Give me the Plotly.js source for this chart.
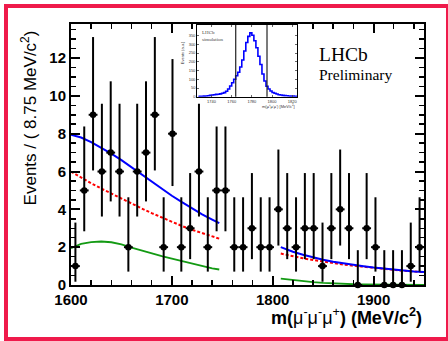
<!DOCTYPE html>
<html>
<head>
<meta charset="utf-8">
<script src="https://cdn.plot.ly/plotly-3.0.1.min.js"></script>
<style>
html,body{margin:0;padding:0;background:#fff;}
#wrap{position:relative;width:448px;height:341px;overflow:hidden;}
#chart{position:absolute;left:0;top:0;width:448px;height:341px;}
#frame{position:absolute;left:4px;top:4px;width:446px;height:337px;border:4px solid #ef1a4b;box-sizing:border-box;pointer-events:none;}
</style>
</head>
<body>
<div id="wrap"><div id="chart"></div><div id="frame"></div></div>
<script>
// ---- main histogram (bins of 8.75 MeV from 1600 to 1950) ----
const binLow = 1600;
const binWidth = 8.75;
const counts = [1,5,9,6,7,6,2,6,7,9,2,8,2,3,6,2,5,5,2,2,3,2,2,4,3,2,3,3,1,3,4,3,0,3,2,0,0,0,1,2];
// Poisson (68.3%) error table indexed by count
const poissonUp   = [1.841,2.300,2.638,2.918,3.163,3.382,3.584,3.770,3.945,4.110];
const poissonDown = [0,0.827,1.292,1.633,1.914,2.160,2.380,2.581,2.768,2.943];

// ---- fit curves (sidebands) ----
const fitXLeft  = [1600,1610,1620,1630,1640,1650,1660,1670,1680,1690,1700,1710,1720,1730,1740,1747];
const totalLeft = [7.95,7.8,7.55,7.25,6.95,6.6,6.22,5.85,5.45,5.1,4.72,4.38,4.04,3.74,3.46,3.27];
const bkgLeft   = [6.0,5.68,5.38,5.1,4.83,4.57,4.3,4.05,3.8,3.56,3.33,3.12,2.92,2.74,2.57,2.45];
const sigLeft   = [1.95,2.17,2.27,2.3,2.26,2.15,1.98,1.82,1.67,1.53,1.4,1.27,1.13,1.0,0.88,0.82];

const fitXRight  = [1808,1815,1820,1830,1840,1850,1860,1870,1880,1890,1900,1910,1920,1930,1940,1950];
const totalRight = [2.0,1.85,1.76,1.6,1.46,1.34,1.23,1.14,1.06,0.99,0.92,0.86,0.81,0.76,0.72,0.69];
const bkgRight   = [1.66,1.57,1.51,1.41,1.32,1.23,1.15,1.08,1.02,0.96,0.9,0.85,0.8,0.75,0.71,0.68];
const sigRight   = [0.34,0.29,0.26,0.2,0.15,0.11,0.08,0.06,0.04,0.03,0.02,0.01,0.01,0.005,0.003,0.002];

// ---- inset: simulated signal shape (2 MeV bins) ----
const simCenters = [1727,1729,1731,1733,1735,1737,1739,1741,1743,1745,1747,1749,1751,1753,1755,1757,1759,1761,1763,1765,1767,1769,1771,1773,1775,1777,1779,1781,1783,1785,1787,1789,1791,1793,1795,1797,1799,1801,1803,1805,1807,1809,1811,1813,1815,1817,1819,1821,1823,1825];
const simCounts  = [2,3,3,4,5,6,8,10,12,14,15,17,20,24,32,45,62,80,100,120,140,170,210,262,310,345,365,352,320,280,232,185,130,90,60,45,33,25,20,16,12,10,8,7,6,5,4,4,3,3];
const windowLines = [1764,1795];

const mainTickLabels = ['1600','1700','1800','1900'];
const mainTickVals = [1600,1700,1800,1900];

const centers = counts.map((_, i) => binLow + binWidth * (i + 0.5));
const errPlus = counts.map(n => poissonUp[n]);
const errMinus = counts.map(n => poissonDown[n]);

const sans = 'Liberation Sans, Arial, Helvetica, sans-serif';
const serif = 'Liberation Serif, Times New Roman, serif';

const traces = [
  {x: fitXLeft, y: bkgLeft, mode:'lines', line:{color:'#ff0000', width:2, dash:'3px,2px'}, hoverinfo:'skip'},
  {x: fitXRight, y: bkgRight, mode:'lines', line:{color:'#ff0000', width:2, dash:'3px,2px'}, hoverinfo:'skip'},
  {x: fitXLeft, y: sigLeft, mode:'lines', line:{color:'#139a13', width:1.8}, hoverinfo:'skip'},
  {x: fitXRight, y: sigRight, mode:'lines', line:{color:'#139a13', width:1.8}, hoverinfo:'skip'},
  {x: fitXLeft, y: totalLeft, mode:'lines', line:{color:'#0000ff', width:2}, hoverinfo:'skip'},
  {x: fitXRight, y: totalRight, mode:'lines', line:{color:'#0000ff', width:2}, hoverinfo:'skip'},
  {x: centers, y: counts, mode:'markers', cliponaxis:false,
   marker:{color:'#000', size:6.5, symbol:'circle'},
   error_y:{type:'data', symmetric:false, array:errPlus, arrayminus:errMinus, width:0, thickness:2, color:'#000'},
   error_x:{type:'constant', value:binWidth/2, width:0, thickness:2, color:'#000'}},
  {x: simCenters, y: simCounts, xaxis:'x2', yaxis:'y2', mode:'lines',
   line:{color:'#0000ff', width:1.6, shape:'hvh'}, hoverinfo:'skip'}
];

const shapes = windowLines.map(v => ({type:'line', xref:'x2', yref:'y2 domain', x0:v, x1:v, y0:0, y1:1, line:{color:'#222', width:1.2}}));

const layout = {
  width:448, height:341,
  margin:{l:71, r:24, t:24, b:56},
  paper_bgcolor:'#fff', plot_bgcolor:'#fff',
  showlegend:false,
  font:{family:sans, color:'#000'},
  xaxis:{range:[1600,1950], tickvals:mainTickVals, ticktext:mainTickLabels,
    ticks:'inside', ticklen:9, tickwidth:2, tickcolor:'#000',
    showline:true, linecolor:'#000', linewidth:2, mirror:'allticks',
    showgrid:false, zeroline:false,
    tickfont:{family:sans, size:15, weight:'bold'},
    minor:{dtick:20, ticks:'inside', ticklen:5, tickwidth:1.5, tickcolor:'#000', showgrid:false}},
  yaxis:{range:[0,13.8], dtick:2, tick0:0,
    ticks:'inside', ticklen:9, tickwidth:2, tickcolor:'#000',
    showline:true, linecolor:'#000', linewidth:2, mirror:'allticks',
    showgrid:false, zeroline:false,
    tickfont:{family:sans, size:15, weight:'bold'},
    minor:{dtick:0.5, ticks:'inside', ticklen:5, tickwidth:1.5, tickcolor:'#000', showgrid:false}},
  xaxis2:{domain:[0.358,0.641], anchor:'y2', range:[1726,1825],
    tickvals:[1740,1760,1780,1800,1820], ticks:'inside', ticklen:2, tickwidth:0.8,
    showline:true, linecolor:'#000', linewidth:1.2, mirror:'allticks',
    showgrid:false, zeroline:false, tickfont:{family:sans, size:4, color:'#333'}},
  yaxis2:{domain:[0.721,0.996], anchor:'x2', range:[0,410],
    tickvals:[0,50,100,150,200,250,300,350], ticks:'inside', ticklen:2, tickwidth:0.8,
    showline:true, linecolor:'#000', linewidth:1.2, mirror:'allticks',
    showgrid:false, zeroline:false, tickfont:{family:sans, size:4, color:'#333'}},
  shapes: shapes,
  annotations:[
    {xref:'paper', yref:'paper', x:-0.119, y:0.985, xanchor:'center', yanchor:'top', textangle:-90,
     text:'Events / ( 8.75 MeV/c<sup>2</sup>)', showarrow:false, font:{family:sans, size:17}},
    {xref:'paper', yref:'paper', x:1.0, y:-0.1226, xanchor:'right', yanchor:'middle',
     text:'<b>m(</b>μ<sup>-</sup>μ<sup>-</sup>μ<sup>+</sup><b>) (MeV/c<sup>2</sup>)</b>', showarrow:false, font:{family:sans, size:18}},
    {xref:'paper', yref:'paper', x:0.697, y:0.885, xanchor:'left', yanchor:'middle',
     text:'LHCb', showarrow:false, font:{family:serif, size:19.5}},
    {xref:'paper', yref:'paper', x:0.697, y:0.805, xanchor:'left', yanchor:'middle',
     text:'Preliminary', showarrow:false, font:{family:serif, size:15.5}},
    {xref:'paper', yref:'paper', x:0.366, y:0.985, xanchor:'left', yanchor:'top', align:'left',
     text:'LHCb<br>simulation', showarrow:false, font:{family:serif, size:5, color:'#444'}},
    {xref:'paper', yref:'paper', x:0.316, y:0.89, xanchor:'center', yanchor:'middle', textangle:-90,
     text:'Events (a.u.)', showarrow:false, font:{family:sans, size:4, color:'#333'}},
    {xref:'paper', yref:'paper', x:0.641, y:0.705, xanchor:'right', yanchor:'top',
     text:'m(μ<sup>+</sup>μ<sup>-</sup>μ<sup>-</sup>) [MeV/c<sup>2</sup>]', showarrow:false, font:{family:sans, size:4, color:'#333'}}
  ]
};

Plotly.newPlot('chart', traces, layout, {staticPlot:true, displayModeBar:false});
</script>
</body>
</html>
